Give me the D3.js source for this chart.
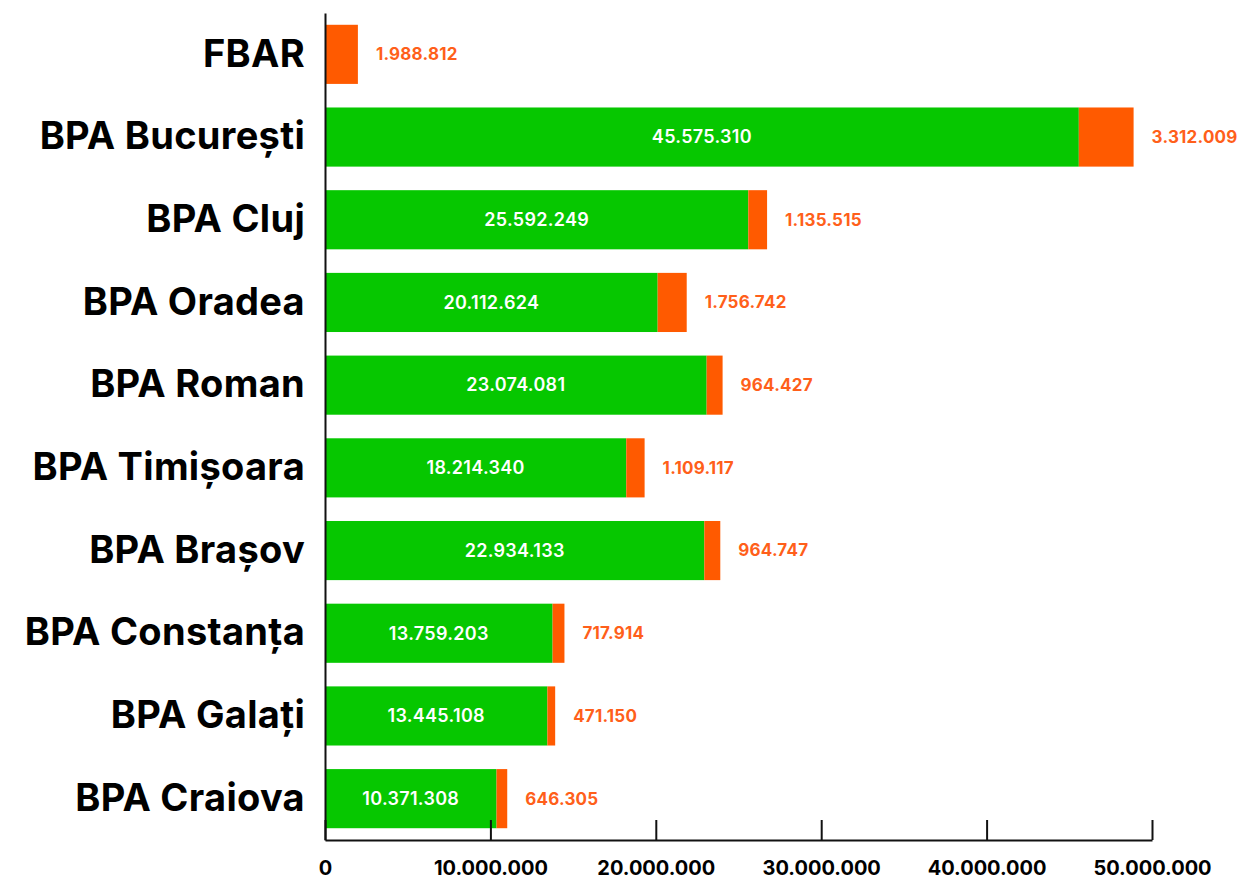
<!DOCTYPE html>
<html>
<head>
<meta charset="utf-8">
<script src="https://cdn.jsdelivr.net/npm/d3@7"></script>
<style>
  body { margin: 0; background: #fff; }
  svg { display: block; font-family: Inter, "Open Sans", sans-serif; }
</style>
</head>
<body>
<div id="chart"></div>
<script>
const categories = ["FBAR", "BPA București", "BPA Cluj", "BPA Oradea", "BPA Roman",
  "BPA Timișoara", "BPA Brașov", "BPA Constanța", "BPA Galați", "BPA Craiova"]
const greenValues = [0, 45575310, 25592249, 20112624, 23074081,
  18214340, 22934133, 13759203, 13445108, 10371308]
const orangeValues = [1988812, 3312009, 1135515, 1756742, 964427,
  1109117, 964747, 717914, 471150, 646305]
const xTicks = [0, 10000000, 20000000, 30000000, 40000000, 50000000]

const greenColor = "#06C700"
const orangeColor = "#FF5A00"
const labelOrange = "#FF5F1A"

const fmt = v => d3.format(",")(v).replace(/,/g, ".")

const width = 1241, height = 880
const margin = { top: 13, right: 89, bottom: 40, left: 325 }
const boundedWidth = width - margin.left - margin.right
const boundedHeight = height - margin.top - margin.bottom

const data = categories.map((c, i) => ({ cat: c, green: greenValues[i], orange: orangeValues[i] }))

const svg = d3.select("#chart").append("svg")
  .attr("width", width)
  .attr("height", height)

const bounds = svg.append("g")
  .attr("transform", `translate(${margin.left},${margin.top})`)

const xScale = d3.scaleLinear()
  .domain([0, 50000000])
  .range([0, boundedWidth])

const yScale = d3.scaleBand()
  .domain(categories)
  .range([0, boundedHeight])
  .paddingInner(0.285)
  .paddingOuter(0.1425)

// bars
const rows = bounds.selectAll(".row")
  .data(data)
  .join("g")
    .attr("class", "row")
    .attr("transform", d => `translate(0,${yScale(d.cat)})`)

rows.filter(d => d.green > 0).append("rect")
  .attr("x", xScale(0))
  .attr("width", d => xScale(d.green) - xScale(0))
  .attr("height", yScale.bandwidth())
  .attr("fill", greenColor)

rows.append("rect")
  .attr("x", d => xScale(d.green))
  .attr("width", d => xScale(d.green + d.orange) - xScale(d.green))
  .attr("height", yScale.bandwidth())
  .attr("fill", orangeColor)

rows.filter(d => d.green > 0).append("text")
  .attr("x", d => xScale(d.green / 2))
  .attr("y", yScale.bandwidth() / 2)
  .attr("dy", "0.35em")
  .attr("text-anchor", "middle")
  .attr("fill", "#fff")
  .style("font-size", "18px")
  .style("font-weight", 600)
  .style("letter-spacing", "0.3px")
  .text(d => fmt(d.green))

rows.append("text")
  .attr("x", d => xScale(d.green + d.orange) + 18)
  .attr("y", yScale.bandwidth() / 2)
  .attr("dy", "0.35em")
  .attr("fill", labelOrange)
  .style("font-size", "17px")
  .style("font-weight", 700)
  .style("letter-spacing", "0.2px")
  .text(d => fmt(d.orange))

// axes
const xAxis = bounds.append("g")
  .attr("transform", `translate(0,${boundedHeight})`)
  .call(d3.axisBottom(xScale).tickValues(xTicks).tickFormat(fmt)
    .tickSizeInner(-20).tickSizeOuter(0).tickPadding(21))
xAxis.selectAll("line").attr("stroke", "#111").attr("stroke-width", 2)
xAxis.select(".domain").attr("stroke", "#111").attr("stroke-width", 2)
xAxis.selectAll("text")
  .attr("fill", "#000")
  .style("font-size", "20px")
  .style("font-weight", 700)
  .style("font-family", "Inter, sans-serif")

const yAxis = bounds.append("g")
  .call(d3.axisLeft(yScale).tickSize(0).tickPadding(20))
yAxis.select(".domain").attr("stroke", "#111").attr("stroke-width", 2)
yAxis.selectAll("text")
  .attr("fill", "#000")
  .style("font-size", "38px")
  .style("font-weight", 700)
  .style("letter-spacing", "0.3px")
  .style("font-family", "Inter, sans-serif")
</script>
</body>
</html>
